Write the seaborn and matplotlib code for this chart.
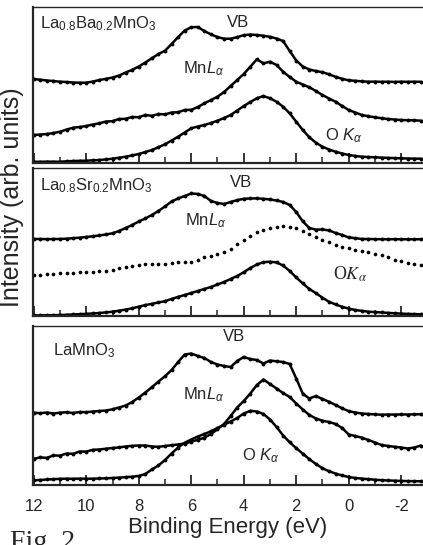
import numpy as np
import matplotlib
matplotlib.use('Agg')
import matplotlib.pyplot as plt
import seaborn as sns
from matplotlib.ticker import MultipleLocator

# binding energy grid (eV), 12 -> -2.75 in 0.25 steps
energy = np.arange(12.0, -3.0, -0.25)

# La0.8Ba0.2MnO3
vb_ba = [84.0, 83.3, 82.5, 82.0, 81.3, 81.0, 80.5, 80.3, 80.3, 81.5,
         83.0, 84.2, 85.5, 87.5, 90.5, 93.2, 96.5, 100.5, 104.8, 109.0,
         112.3, 119.0, 126.0, 132.5, 135.8, 136.0, 132.0, 128.6, 126.0, 124.3,
         124.3, 125.9, 127.8, 128.5, 128.0, 127.3, 126.2, 124.5, 122.0, 112.0,
         102.5, 96.5, 93.5, 92.0, 90.8, 88.7, 86.2, 84.2, 82.7, 82.2,
         81.7, 81.3, 81.4, 81.2, 81.3, 81.1, 81.3, 81.2, 81.3, 81.2]
mn_ba = [28.0, 28.5, 29.0, 30.0, 31.3, 33.5, 35.3, 36.0, 37.0, 38.5,
         39.7, 41.5, 41.8, 44.0, 44.2, 46.0, 45.8, 48.0, 47.2, 49.0,
         48.6, 50.5, 50.8, 53.0, 53.2, 56.0, 59.7, 63.0, 66.3, 71.0,
         77.0, 83.0, 89.0, 96.3, 103.7, 99.7, 101.3, 98.0, 91.3, 86.0,
         81.3, 78.5, 75.7, 72.0, 68.0, 64.5, 61.3, 57.0, 53.0, 50.5,
         48.0, 46.8, 45.7, 44.8, 44.0, 43.5, 43.0, 42.8, 42.7, 42.3]
o_ba = [1.3, 1.2, 1.4, 1.3, 1.3, 1.7, 2.0, 2.2, 2.3, 2.7,
        3.0, 3.6, 4.3, 5.3, 6.3, 7.6, 9.0, 11.0, 13.0, 15.8,
        18.7, 22.5, 26.3, 30.5, 34.7, 36.5, 38.0, 40.0, 42.3, 45.0,
        48.0, 52.5, 57.0, 61.0, 64.7, 67.0, 64.7, 61.3, 56.3, 49.7,
        41.3, 33.0, 25.7, 20.3, 16.3, 13.5, 11.3, 9.5, 8.0, 7.0,
        6.3, 6.0, 5.7, 5.4, 5.1, 4.9, 4.7, 4.5, 4.4, 4.3]

# La0.8Sr0.2MnO3
vb_sr = [77.0, 77.0, 76.8, 77.0, 77.0, 77.3, 77.8, 78.3, 79.0, 79.7,
         80.5, 81.5, 82.7, 85.0, 88.0, 91.0, 94.5, 97.5, 101.0, 105.0,
         109.5, 114.5, 117.5, 120.0, 122.5, 122.0, 120.0, 115.0, 113.0, 112.0,
         114.0, 115.8, 117.2, 117.5, 117.6, 117.2, 116.5, 115.5, 114.0, 111.0,
         104.0, 94.5, 88.0, 86.3, 86.5, 85.5, 83.0, 81.0, 78.5, 77.8,
         77.0, 77.0, 76.8, 76.8, 76.7, 76.8, 76.7, 76.7, 76.7, 76.7]
mn_sr = [41.0, 41.3, 41.7, 42.0, 42.5, 43.0, 43.3, 43.7, 44.0, 44.2,
         44.7, 45.3, 46.0, 47.5, 49.2, 50.3, 50.8, 51.6, 51.8, 52.0,
         52.3, 53.0, 53.6, 53.8, 54.0, 55.5, 58.8, 60.0, 61.5, 64.0,
         67.0, 71.5, 76.0, 80.2, 83.5, 86.3, 88.0, 89.3, 89.5, 89.2,
         87.7, 85.0, 82.3, 79.0, 75.8, 73.5, 71.3, 69.2, 67.5, 66.0,
         64.8, 63.7, 62.3, 61.0, 58.5, 56.0, 54.5, 52.8, 51.8, 51.0]
o_sr = [0.5, 0.6, 0.7, 0.8, 1.0, 1.2, 1.5, 1.8, 2.2, 2.5,
        3.0, 3.6, 4.3, 5.3, 6.4, 7.7, 9.3, 10.9, 12.2, 13.5,
        14.8, 17.0, 19.1, 21.0, 23.0, 25.0, 27.0, 29.0, 31.5, 34.0,
        37.0, 40.0, 43.7, 48.0, 51.5, 53.8, 54.3, 53.5, 50.5, 45.0,
        38.5, 32.5, 27.0, 22.8, 18.3, 14.2, 11.5, 9.2, 7.4, 6.0,
        5.1, 4.3, 3.9, 3.5, 3.1, 2.7, 2.4, 2.1, 1.9, 1.7]

# LaMnO3
vb_la = [72.3, 71.8, 72.5, 71.5, 72.3, 72.8, 72.0, 73.0, 72.8, 73.5,
         74.0, 74.5, 75.7, 77.5, 79.5, 83.0, 87.5, 92.5, 97.8, 103.5,
         108.8, 115.0, 123.0, 130.5, 131.5, 129.0, 127.0, 123.0, 120.5, 119.0,
         118.0, 124.0, 128.0, 126.0, 125.0, 121.5, 124.5, 123.7, 123.0, 121.0,
         106.5, 91.3, 86.5, 89.0, 86.0, 83.2, 80.0, 76.7, 73.8, 72.5,
         71.5, 71.0, 70.6, 70.3, 70.5, 70.4, 70.6, 70.5, 70.7, 70.7]
mn_la = [26.3, 27.5, 27.2, 29.5, 29.4, 31.5, 31.2, 33.5, 33.4, 35.2,
         35.5, 36.3, 37.0, 37.6, 38.5, 39.2, 39.5, 39.5, 38.5, 38.2,
         39.0, 39.8, 40.5, 41.5, 43.3, 45.2, 47.3, 51.0, 55.8, 61.0,
         69.0, 77.5, 84.0, 91.5, 100.0, 105.5, 101.0, 96.5, 92.0, 88.0,
         81.5, 75.5, 70.0, 66.5, 64.3, 63.0, 61.0, 57.0, 50.5, 49.0,
         47.3, 45.0, 42.5, 40.0, 39.0, 38.2, 37.5, 36.5, 37.5, 39.5]
o_la = [4.7, 5.0, 5.5, 5.8, 6.2, 6.3, 6.2, 6.4, 6.3, 6.3,
        6.5, 6.7, 7.0, 7.4, 7.8, 8.3, 9.0, 11.0, 15.5, 19.5,
        25.0, 31.5, 37.5, 42.3, 45.5, 48.5, 51.0, 53.7, 57.0, 60.3,
        63.5, 67.0, 71.5, 74.2, 73.5, 71.0, 65.5, 58.0, 49.5, 42.8,
        36.8, 31.3, 25.8, 21.0, 16.7, 13.8, 11.4, 9.5, 8.0, 7.0,
        6.4, 5.8, 5.3, 4.8, 4.5, 4.3, 4.1, 3.9, 3.8, 3.7]

sns.set_style('ticks')
plt.rcParams['font.family'] = ['Liberation Sans', 'DejaVu Sans']
plt.rcParams['mathtext.fontset'] = 'custom'
plt.rcParams['mathtext.rm'] = 'Liberation Sans'
plt.rcParams['mathtext.it'] = 'Liberation Sans:italic'

fig = plt.figure(figsize=(4.23, 5.45), dpi=100)

# panel boxes [left, bottom, width, height] and y range
boxes = [[0.078, 0.7009, 0.922, 0.2862],
         [0.078, 0.4202, 0.922, 0.2716],
         [0.078, 0.1101, 0.922, 0.2917]]
ytops = [156, 148, 159]

panels = [
    (vb_ba, mn_ba, o_ba, r'La$_{\mathit{0.8}}$Ba$_{\mathit{0.2}}$MnO$_{\mathit{3}}$'),
    (vb_sr, mn_sr, o_sr, r'La$_{\mathit{0.8}}$Sr$_{\mathit{0.2}}$MnO$_{\mathit{3}}$'),
    (vb_la, mn_la, o_la, r'LaMnO$_{\mathit{3}}$'),
]

# label positions (energy, height)
name_pos = [(11.76, 135), (11.76, 126), (11.27, 130)]
vb_pos = [(4.64, 136), (4.53, 129), (4.79, 144)]
mn_pos = [(6.32, 90), (6.24, 91), (6.32, 86)]
o_pos = [(0.91, 23), (0.60, 36), (4.07, 25)]

line_kw = dict(color='black', lw=1.8, marker='o', ms=2.8, mew=0)

axes = []
for i, (vb, mn, ok, name) in enumerate(panels):
    ax = fig.add_axes(boxes[i])
    axes.append(ax)
    sns.lineplot(x=energy, y=vb, ax=ax, **line_kw)
    if i == 1:
        # Mn L in the Sr sample is drawn as loose dots
        sns.scatterplot(x=energy, y=mn, ax=ax, color='black', s=7, linewidth=0)
    else:
        sns.lineplot(x=energy, y=mn, ax=ax, **line_kw)
    sns.lineplot(x=energy, y=ok, ax=ax, **line_kw)

    ax.set_xlim(12.03, -2.83)
    ax.set_ylim(0, ytops[i])
    ax.set_yticks([])
    ax.xaxis.set_major_locator(MultipleLocator(2))
    ax.xaxis.set_minor_locator(MultipleLocator(1))
    ax.tick_params(axis='x', which='major', direction='in', length=7, width=1.3,
                   labelsize=12, pad=10)
    ax.tick_params(axis='x', which='minor', direction='in', length=4, width=1.1)
    ax.spines['right'].set_visible(False)
    ax.spines['left'].set_linewidth(1.6)
    ax.spines['bottom'].set_linewidth(1.6)
    ax.spines['top'].set_linewidth(1.0)
    ax.set_ylabel('')
    ax.set_xlabel('')

    ax.text(*name_pos[i], name, fontsize=12, va='baseline')
    ax.text(*vb_pos[i], 'VB', fontsize=12, va='baseline')
    ax.text(*mn_pos[i], r'Mn$L_{\alpha}$', fontsize=12, va='baseline')
    if i == 1:
        ax.text(*o_pos[i], r'O$K_{\alpha}$', fontsize=13, va='baseline',
                family='Liberation Serif', math_fontfamily='stix')
    else:
        ax.text(*o_pos[i], r'O $K_{\alpha}$', fontsize=12, va='baseline')

    if i < 2:
        ax.tick_params(axis='x', labelbottom=False)

axes[2].set_xticks([12, 10, 8, 6, 4, 2, 0, -2])
axes[2].set_xticklabels(['12', '10', '8', '6', '4', '2', '0', '-2'])
axes[2].set_xlabel('Binding Energy (eV)', fontsize=16, labelpad=2)

fig.text(0.028, 0.638, 'Intensity (arb. units)', rotation=90, fontsize=18,
         ha='center', va='center')
# caption, cut by the bottom edge as in the scan
fig.text(0.024, 0.028, 'Fig. 2', family='Liberation Serif', fontsize=20, va='top')

fig.savefig('out.png', dpi=100)
